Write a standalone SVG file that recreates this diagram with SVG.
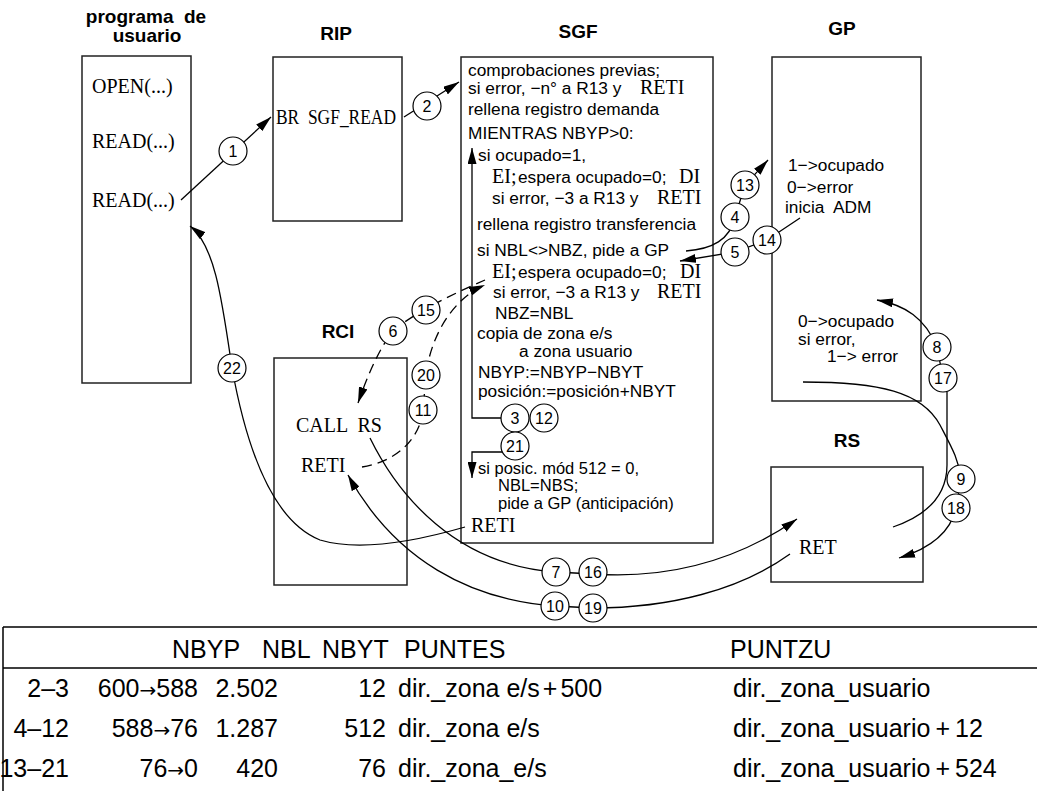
<svg xmlns="http://www.w3.org/2000/svg" width="1037" height="791" viewBox="0 0 1037 791">
<style>
.box{fill:none;stroke:#222;stroke-width:1.5}
.ttl{font-family:"Liberation Sans",Arial,sans-serif;font-weight:bold;font-size:19px;text-anchor:middle;fill:#000}
.sf{font-family:"Liberation Serif","Times New Roman",serif;font-size:20px;fill:#000}
.ss{font-family:"Liberation Sans",Arial,sans-serif;font-size:17.3px;fill:#000}
.sm{font-size:16.5px}
.ln{fill:none;stroke:#000;stroke-width:1.3}
.ds{stroke-dasharray:10 6}
.cn{fill:#fff;stroke:#000;stroke-width:1.2}
.cl{font-family:"Liberation Sans",Arial,sans-serif;font-size:16px;text-anchor:middle;fill:#000}
.tb{font-family:"Liberation Sans",Arial,sans-serif;font-size:25px;fill:#000}
.tr{text-anchor:end}
.ar{font-family:"DejaVu Sans",sans-serif;font-size:20px}
.tl{fill:none;stroke:#000;stroke-width:1.5}
</style>
<defs>
<marker id="ah" viewBox="0 0 16 9" refX="16" refY="4.5" markerWidth="16" markerHeight="9" orient="auto" markerUnits="userSpaceOnUse">
<path d="M0,0 L16,4.5 L0,9 z" fill="#000"/>
</marker>
</defs>
<rect width="1037" height="791" fill="#fff"/>

<g id="programa">
<text class="ttl" x="146" y="23" xml:space="preserve">programa  de</text>
<text class="ttl" x="147" y="42">usuario</text>
<rect class="box" x="82" y="56" width="109" height="327"/>
<text class="sf" x="92" y="93">OPEN(...)</text>
<text class="sf" x="92" y="148">READ(...)</text>
<text class="sf" x="92" y="207">READ(...)</text>
</g>

<g id="RIP">
<text class="ttl" x="336" y="40">RIP</text>
<rect class="box" x="273" y="57" width="129" height="164"/>
<text class="sf" x="276" y="124" font-size="18" textLength="120" lengthAdjust="spacingAndGlyphs" xml:space="preserve">BR  SGF_READ</text>
</g>

<g id="SGF">
<text class="ttl" x="578" y="38">SGF</text>
<rect class="box" x="461" y="57" width="252" height="486"/>
<text class="ss" x="468" y="76">comprobaciones previas;</text>
<text class="ss" x="468" y="94">si error, −n° a R13 y</text>
<text class="sf" x="640" y="94">RETI</text>
<text class="ss" x="468" y="115">rellena registro demanda</text>
<text class="ss" x="468" y="139">MIENTRAS NBYP&gt;0:</text>
<text class="ss" x="478" y="161">si ocupado=1,</text>
<text class="sf" x="492" y="183">EI;</text>
<text class="ss" x="518" y="183">espera ocupado=0;</text>
<text class="sf" x="679" y="183">DI</text>
<text class="ss" x="492" y="204">si error, −3 a R13 y</text>
<text class="sf" x="657" y="204">RETI</text>
<text class="ss" x="477" y="230">rellena registro transferencia</text>
<text class="ss" x="477" y="256">si NBL&lt;&gt;NBZ, pide a GP</text>
<text class="sf" x="492" y="278">EI;</text>
<text class="ss" x="518" y="278">espera ocupado=0;</text>
<text class="sf" x="680" y="278">DI</text>
<text class="ss" x="493" y="298">si error, −3 a R13 y</text>
<text class="sf" x="657" y="298">RETI</text>
<text class="ss" x="495" y="319">NBZ=NBL</text>
<text class="ss" x="477" y="339">copia de zona e/s</text>
<text class="ss" x="519" y="357">a zona usuario</text>
<text class="ss" x="478" y="378">NBYP:=NBYP−NBYT</text>
<text class="ss" x="478" y="397">posición:=posición+NBYT</text>
<text class="ss sm" x="478" y="474">si posic. mód 512 = 0,</text>
<text class="ss sm" x="498" y="491">NBL=NBS;</text>
<text class="ss sm" x="498" y="509">pide a GP (anticipación)</text>
<text class="sf" x="471" y="532">RETI</text>
</g>

<g id="GP">
<text class="ttl" x="842" y="35">GP</text>
<rect class="box" x="772" y="57" width="149" height="344"/>
<text class="ss" x="788" y="171">1−&gt;ocupado</text>
<text class="ss" x="787" y="193">0−&gt;error</text>
<text class="ss" x="785" y="213" xml:space="preserve">inicia  ADM</text>
<text class="ss" x="798" y="327">0−&gt;ocupado</text>
<text class="ss" x="798" y="345">si error,</text>
<text class="ss" x="827" y="362">1−&gt; error</text>
</g>

<g id="RCI">
<text class="ttl" x="338" y="338">RCI</text>
<rect class="box" x="274" y="358" width="133" height="227"/>
<text class="sf" x="296" y="432" xml:space="preserve">CALL  RS</text>
<text class="sf" x="301" y="472">RETI</text>
</g>

<g id="RS">
<text class="ttl" x="847" y="447">RS</text>
<rect class="box" x="771" y="467" width="152" height="115"/>
<text class="sf" x="799" y="554">RET</text>
</g>

<g id="connectors">
<path class="ln" d="M181,200 L271,117" marker-end="url(#ah)"/>
<path class="ln" d="M404,117 L459,82" marker-end="url(#ah)"/>
<path class="ln" d="M515,418 L472,418 L472,148" marker-end="url(#ah)"/>
<path class="ln" d="M503,452 L472,452 L472,478" marker-end="url(#ah)"/>
<path class="ln" d="M686,251 C712,249 730,240 735,217 L745,185 L768,160" marker-end="url(#ah)"/>
<path class="ln" d="M800,218 L767,240 L735,252 L680,261" marker-end="url(#ah)"/>
<path class="ln ds" d="M485,280 C455,293 415,312 393,331 C378,350 366,380 358,403" marker-end="url(#ah)"/>
<path class="ln ds" d="M362,467 C395,462 420,440 423,410 L426,375 C430,340 450,300 485,285" marker-end="url(#ah)"/>
<path class="ln" d="M370,438 C398,495 455,565 556,572 L593,574 C680,580 745,555 797,519" marker-end="url(#ah)"/>
<path class="ln" d="M790,554 C740,590 670,608 593,608 L555,606 C470,600 395,560 348,475" marker-end="url(#ah)"/>
<path class="ln" d="M893,527 C928,515 947,495 947,465 L947,392 L943,378 L937,347 C925,318 905,305 877,300" marker-end="url(#ah)"/>
<path class="ln" d="M803,382 C880,382 922,392 940,425 C952,448 959,460 961,479 L956,508 C950,535 925,550 899,558" marker-end="url(#ah)"/>
<path class="ln" d="M465,527 C420,540 360,552 320,540 C270,520 245,440 232,368 C222,300 215,245 190,226" marker-end="url(#ah)"/>

<circle class="cn" cx="233" cy="151" r="14"/><text class="cl" x="233" y="157">1</text>
<circle class="cn" cx="427" cy="106" r="14"/><text class="cl" x="427" y="112">2</text>
<circle class="cn" cx="515" cy="418" r="14"/><text class="cl" x="515" y="424">3</text>
<circle class="cn" cx="544" cy="418" r="14"/><text class="cl" x="544" y="424">12</text>
<circle class="cn" cx="515" cy="446" r="14"/><text class="cl" x="515" y="452">21</text>
<circle class="cn" cx="745" cy="185" r="14"/><text class="cl" x="745" y="191">13</text>
<circle class="cn" cx="735" cy="217" r="14"/><text class="cl" x="735" y="223">4</text>
<circle class="cn" cx="735" cy="252" r="14"/><text class="cl" x="735" y="258">5</text>
<circle class="cn" cx="767" cy="240" r="14"/><text class="cl" x="767" y="246">14</text>
<circle class="cn" cx="393" cy="331" r="14"/><text class="cl" x="393" y="337">6</text>
<circle class="cn" cx="426" cy="310" r="14"/><text class="cl" x="426" y="316">15</text>
<circle class="cn" cx="426" cy="375" r="14"/><text class="cl" x="426" y="381">20</text>
<circle class="cn" cx="423" cy="410" r="14"/><text class="cl" x="423" y="416">11</text>
<circle class="cn" cx="556" cy="572" r="14"/><text class="cl" x="556" y="578">7</text>
<circle class="cn" cx="593" cy="572" r="14"/><text class="cl" x="593" y="578">16</text>
<circle class="cn" cx="555" cy="606" r="14"/><text class="cl" x="555" y="612">10</text>
<circle class="cn" cx="593" cy="608" r="14"/><text class="cl" x="593" y="614">19</text>
<circle class="cn" cx="937" cy="347" r="14"/><text class="cl" x="937" y="353">8</text>
<circle class="cn" cx="943" cy="378" r="14"/><text class="cl" x="943" y="384">17</text>
<circle class="cn" cx="961" cy="479" r="14"/><text class="cl" x="961" y="485">9</text>
<circle class="cn" cx="956" cy="508" r="14"/><text class="cl" x="956" y="514">18</text>
<circle class="cn" cx="232" cy="368" r="14"/><text class="cl" x="232" y="374">22</text>
</g>

<g id="tabla">
<path class="tl" d="M3,627 H1037 M3,668 H1037 M3,627 V791"/>
<text class="tb" x="172" y="658">NBYP</text>
<text class="tb" x="262" y="658">NBL</text>
<text class="tb" x="322" y="658">NBYT</text>
<text class="tb" x="404" y="658">PUNTES</text>
<text class="tb" x="730" y="658">PUNTZU</text>

<text class="tb tr" x="69" y="697">2–3</text>
<text class="tb tr" x="198" y="697">600<tspan class="ar">→</tspan>588</text>
<text class="tb tr" x="278" y="697">2.502</text>
<text class="tb tr" x="386" y="697">12</text>
<text class="tb" x="398" y="697">dir._zona e/s<tspan dx="3">+</tspan><tspan dx="3">500</tspan></text>
<text class="tb" x="733" y="697">dir._zona_usuario</text>

<text class="tb tr" x="69" y="737">4–12</text>
<text class="tb tr" x="198" y="737">588<tspan class="ar">→</tspan>76</text>
<text class="tb tr" x="278" y="737">1.287</text>
<text class="tb tr" x="386" y="737">512</text>
<text class="tb" x="398" y="737">dir._zona e/s</text>
<text class="tb" x="733" y="737">dir._zona_usuario<tspan dx="5">+</tspan><tspan dx="5">12</tspan></text>

<text class="tb tr" x="69" y="777">13–21</text>
<text class="tb tr" x="198" y="777">76<tspan class="ar">→</tspan>0</text>
<text class="tb tr" x="278" y="777">420</text>
<text class="tb tr" x="386" y="777">76</text>
<text class="tb" x="398" y="777">dir._zona_e/s</text>
<text class="tb" x="733" y="777">dir._zona_usuario<tspan dx="5">+</tspan><tspan dx="5">524</tspan></text>
</g>
</svg>
